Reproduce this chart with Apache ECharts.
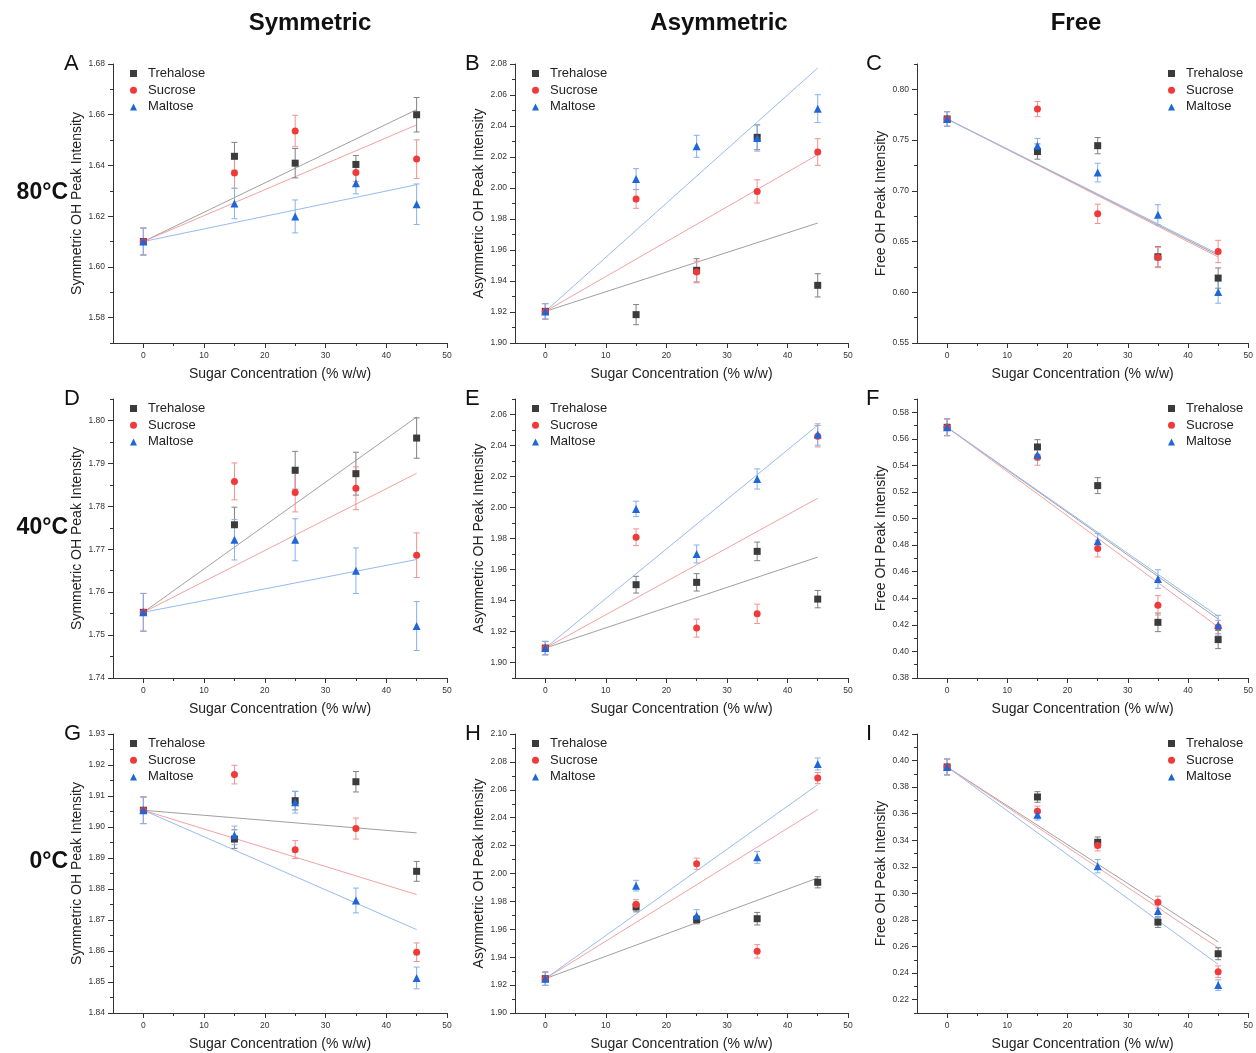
<!DOCTYPE html>
<html><head><meta charset="utf-8">
<script src="https://cdn.jsdelivr.net/npm/echarts@6/dist/echarts.min.js"></script>
<style>html,body{margin:0;padding:0;background:#fff}#c{width:1256px;height:1053px}</style>
</head><body><div id="c"></div><script>
// ---------- data ----------
const concentrations = [0, 15, 25, 35, 45];
const sugars = ['Trehalose', 'Sucrose', 'Maltose'];
const xTickLabels = [0, 10, 20, 30, 40, 50];
const columnTitles = ['Symmetric', 'Asymmetric', 'Free'];
const rowTitles = ['80°C', '40°C', '0°C'];
const yAxisNames = ['Symmetric OH Peak Intensity', 'Asymmetric OH Peak Intensity', 'Free OH Peak Intensity'];
const panelLetters = ['A','B','C','D','E','F','G','H','I'];

// [min, max, label step, minor step]
const yRangeA = [1.57, 1.68, 0.02, 0.01];
const yRangeB = [1.90, 2.08, 0.02, 0.01];
const yRangeC = [0.55, 0.825, 0.05, 0.025];
const yRangeD = [1.74, 1.805, 0.01, 0.005];
const yRangeE = [1.89, 2.07, 0.02, 0.01];
const yRangeF = [0.38, 0.59, 0.02, 0.01];
const yRangeG = [1.84, 1.93, 0.01, 0.005];
const yRangeH = [1.90, 2.10, 0.02, 0.01];
const yRangeI = [0.21, 0.42, 0.02, 0.01];

// values per sugar (Trehalose, Sucrose, Maltose)
const valsA = [[1.610,1.6436,1.6409,1.6404,1.6600],[1.610,1.6370,1.6536,1.6372,1.6425],[1.610,1.6250,1.6199,1.6330,1.6247]];
const errsA = [[0.0053,0.0055,0.0058,0.0035,0.0068],[0.0053,0.0060,0.0062,0.0035,0.0076],[0.0053,0.0060,0.0065,0.0042,0.0080]];
const fitsA = [[1.610,1.662],[1.610,1.656],[1.610,1.6324]];

const valsB = [[1.9204,1.9183,1.9469,2.0327,1.9372],[1.9204,1.9929,1.9458,1.9978,2.0232],[1.9204,2.0058,2.0269,2.0323,2.0512]];
const errsB = [[0.005,0.0065,0.0075,0.008,0.0075],[0.005,0.006,0.007,0.0075,0.0086],[0.005,0.0067,0.0071,0.0085,0.009]];
const fitsB = [[1.9204,1.9774],[1.9204,2.0215],[1.9204,2.0774]];

const valsC = [[0.7708,0.7387,0.7445,0.6350,0.6140],[0.7708,0.7806,0.6773,0.6343,0.6402],[0.7708,0.7445,0.7180,0.6763,0.6002]];
const errsC = [[0.0072,0.0075,0.008,0.010,0.010],[0.0072,0.0075,0.0095,0.010,0.011],[0.0072,0.0072,0.0092,0.010,0.011]];
const fitsC = [[0.7708,0.6364],[0.7708,0.6348],[0.7708,0.6378]];

const valsD = [[1.7553,1.7757,1.7884,1.7876,1.7959],[1.7553,1.7858,1.7832,1.7842,1.7686],[1.7553,1.7722,1.7722,1.7650,1.7521]];
const errsD = [[0.0044,0.0041,0.0044,0.005,0.0047],[0.0044,0.0043,0.0045,0.005,0.0052],[0.0044,0.0047,0.0049,0.0053,0.0057]];
const fitsD = [[1.7553,1.8008],[1.7553,1.7877],[1.7553,1.7676]];

const valsE = [[1.9093,1.9502,1.9517,1.9717,1.9409],[1.9093,1.9808,1.9222,1.9314,2.0460],[1.9093,1.9991,1.9700,2.0184,2.0471]];
const errsE = [[0.0043,0.0054,0.0056,0.006,0.0056],[0.0043,0.0054,0.0058,0.0062,0.0069],[0.0043,0.005,0.0058,0.0065,0.0069]];
const fitsE = [[1.9093,1.9680],[1.9093,2.0060],[1.9093,2.0531]];

const valsF = [[0.5687,0.5539,0.5248,0.4219,0.4089],[0.5687,0.5461,0.4774,0.4347,0.4184],[0.5687,0.5481,0.4829,0.4545,0.4197]];
const errsF = [[0.0063,0.0055,0.006,0.007,0.0068],[0.0063,0.006,0.0063,0.0073,0.005],[0.0063,0.004,0.0058,0.007,0.0075]];
const fitsF = [[0.5687,0.4244],[0.5687,0.4184],[0.5687,0.4264]];

const valsG = [[1.9054,1.8961,1.9085,1.9146,1.8857],[1.9054,1.9169,1.8927,1.8995,1.8596],[1.9054,1.8973,1.9080,1.8763,1.8513]];
const errsG = [[0.0043,0.003,0.003,0.0033,0.0032],[0.0043,0.003,0.0029,0.0034,0.003],[0.0043,0.003,0.0035,0.004,0.0035]];
const fitsG = [[1.9054,1.8981],[1.9054,1.8782],[1.9054,1.8669]];

const valsH = [[1.9246,1.9760,1.9669,1.9676,1.9937],[1.9246,1.9777,2.0070,1.9442,2.0684],[1.9246,1.9913,1.9698,2.0116,2.0785]];
const errsH = [[0.0048,0.0035,0.003,0.0045,0.004],[0.0048,0.0035,0.004,0.0048,0.004],[0.0048,0.0038,0.0043,0.0043,0.0043]];
const fitsH = [[1.9246,1.9968],[1.9246,2.0458],[1.9246,2.0637]];

const valsI = [[0.3952,0.3726,0.3385,0.2784,0.2546],[0.3952,0.3619,0.3360,0.2934,0.2411],[0.3952,0.3593,0.3205,0.2867,0.2310]];
const errsI = [[0.006,0.004,0.004,0.004,0.0045],[0.006,0.0038,0.004,0.0045,0.0043],[0.006,0.004,0.005,0.005,0.004]];
const fitsI = [[0.3952,0.2636],[0.3952,0.2591],[0.3952,0.2466]];

// ---------- styling ----------
const markColors = ['#3b3b3b', '#f03a3a', '#1f66d6'];
const errColors = ['#808080', '#f39090', '#88b0ec'];
const fitColors = ['#a0a0a0', '#f4a2a2', '#96bbf0'];
const symbols = ['rect', 'circle', 'triangle'];
const symbolSizes = [7, 7, 8];
const FONT = '"Liberation Sans", Arial, sans-serif';

const panels = [
  [valsA, errsA, fitsA, yRangeA], [valsB, errsB, fitsB, yRangeB], [valsC, errsC, fitsC, yRangeC],
  [valsD, errsD, fitsD, yRangeD], [valsE, errsE, fitsE, yRangeE], [valsF, errsF, fitsF, yRangeF],
  [valsG, errsG, fitsG, yRangeG], [valsH, errsH, fitsH, yRangeH], [valsI, errsI, fitsI, yRangeI]
];

const colLeft = [113, 515, 917];
const colWidth = [334, 333, 334];
const rowTop = [64, 399, 734];
const gridH = 279;

function stepValues(min, max, step, skipStep) {
  const out = [];
  const n0 = Math.ceil(min / step - 1e-6), n1 = Math.floor(max / step + 1e-6);
  for (let n = n0; n <= n1; n++) {
    const v = Math.round(n * step * 1e6) / 1e6;
    if (skipStep) {
      const r = v / skipStep;
      if (Math.abs(r - Math.round(r)) < 1e-6) continue;
    }
    out.push(v);
  }
  return out;
}

function errRenderer(color) {
  return function (params, api) {
    const x = api.value(0), lo = api.value(1), hi = api.value(2);
    const p1 = api.coord([x, hi]), p2 = api.coord([x, lo]);
    const w = 3;
    const st = { stroke: color, lineWidth: 1 };
    return { type: 'group', children: [
      { type: 'line', shape: { x1: p1[0], y1: p1[1], x2: p2[0], y2: p2[1] }, style: st },
      { type: 'line', shape: { x1: p1[0] - w, y1: p1[1], x2: p1[0] + w, y2: p1[1] }, style: st },
      { type: 'line', shape: { x1: p2[0] - w, y1: p2[1], x2: p2[0] + w, y2: p2[1] }, style: st }
    ]};
  };
}

const grid = [], xAxis = [], yAxis = [], series = [], legend = [], graphic = [];
const axisColor = '#333';

panels.forEach((p, i) => {
  const [vals, errs, fits, yr] = p;
  const row = Math.floor(i / 3), col = i % 3;
  grid.push({ left: colLeft[col], top: rowTop[row], width: colWidth[col], height: gridH });
  const xMajor = xTickLabels;
  const xMinor = stepValues(0, 50, 5, 10);
  xAxis.push({
    type: 'value', gridIndex: i, min: -5, max: 50, position: 'bottom',
    axisLine: { show: true, onZero: false, lineStyle: { color: axisColor, width: 1 } },
    axisTick: { show: true, length: 5, customValues: xMajor, lineStyle: { color: axisColor } },
    axisLabel: { customValues: xMajor, fontSize: 8.5, color: '#333', margin: 8, fontFamily: FONT },
    splitLine: { show: false },
    name: 'Sugar Concentration (% w/w)', nameLocation: 'middle', nameGap: 24,
    nameTextStyle: { fontSize: 14, color: '#222', fontFamily: FONT }
  });
  xAxis.push({
    type: 'value', gridIndex: i, min: -5, max: 50, position: 'bottom',
    axisLine: { show: false, onZero: false },
    axisTick: { show: true, length: 3, customValues: xMinor, lineStyle: { color: axisColor } },
    axisLabel: { show: false }, splitLine: { show: false }
  });
  const yMajor = stepValues(yr[0], yr[1], yr[2]);
  const yMinor = stepValues(yr[0], yr[1], yr[3], yr[2]);
  yAxis.push({
    type: 'value', gridIndex: i, min: yr[0], max: yr[1], position: 'left',
    axisLine: { show: true, onZero: false, lineStyle: { color: axisColor, width: 1 } },
    axisTick: { show: true, length: 5, customValues: yMajor, lineStyle: { color: axisColor } },
    axisLabel: { customValues: yMajor, fontSize: 8.5, color: '#333', margin: 8, fontFamily: FONT,
      formatter: v => Number(v).toFixed(2) },
    splitLine: { show: false },
    name: yAxisNames[col], nameLocation: 'middle', nameGap: 27,
    nameTextStyle: { fontSize: 14, color: '#222', fontFamily: FONT }
  });
  yAxis.push({
    type: 'value', gridIndex: i, min: yr[0], max: yr[1], position: 'left',
    axisLine: { show: false, onZero: false },
    axisTick: { show: true, length: 3, customValues: yMinor, lineStyle: { color: axisColor } },
    axisLabel: { show: false }, splitLine: { show: false }
  });
  const xi = 2 * i, yi = 2 * i;
  sugars.forEach((s, k) => {
    series.push({
      name: s + ' fit', type: 'line', xAxisIndex: xi, yAxisIndex: yi,
      data: [[0, fits[k][0]], [45, fits[k][1]]],
      showSymbol: false, symbol: 'none', silent: true, z: 2,
      lineStyle: { color: fitColors[k], width: 1 }
    });
  });
  sugars.forEach((s, k) => {
    series.push({
      name: s + ' error', type: 'custom', xAxisIndex: xi, yAxisIndex: yi, z: 3, silent: true,
      renderItem: errRenderer(errColors[k]),
      encode: { x: 0, y: [1, 2] },
      data: concentrations.map((x, j) => [x, vals[k][j] - errs[k][j], vals[k][j] + errs[k][j]])
    });
  });
  sugars.forEach((s, k) => {
    series.push({
      name: s, type: 'scatter', xAxisIndex: xi, yAxisIndex: yi, z: 4,
      symbol: symbols[k], symbolSize: symbolSizes[k],
      itemStyle: { color: markColors[k], opacity: 1 },
      data: concentrations.map((x, j) => [x, vals[k][j]])
    });
  });
  const legLeft = col === 2 ? 1163 : colLeft[col] + 12;
  legend.push({
    orient: 'vertical', left: legLeft, top: rowTop[row] - 2.5, data: sugars,
    itemWidth: 7, itemHeight: 7, itemGap: 2.7, selectedMode: false,
    textStyle: { fontSize: 13, color: '#222', fontFamily: FONT, lineHeight: 14, padding: [0, 0, 0, 6] }
  });
  const letterX = [72, 473, 874][col];
  graphic.push({ type: 'text', left: letterX - 8, top: rowTop[row] - 11,
    style: { text: panelLetters[i], font: '22px ' + FONT, fill: '#111' } });
});

const titleX = [310, 719, 1076];
columnTitles.forEach((t, c) => {
  graphic.push({ type: 'text', x: titleX[c], y: 23,
    style: { text: t, font: 'bold 24px ' + FONT, fill: '#111', textAlign: 'center', textVerticalAlign: 'middle' } });
});
const rowY = [193, 528, 862];
rowTitles.forEach((t, r) => {
  graphic.push({ type: 'text', x: 68, y: rowY[r],
    style: { text: t, font: 'bold 23px ' + FONT, fill: '#111', textAlign: 'right', textVerticalAlign: 'middle' } });
});

const chart = echarts.init(document.getElementById('c'), null, { renderer: 'canvas' });
chart.setOption({
  animation: false,
  backgroundColor: '#fff',
  textStyle: { fontFamily: FONT },
  grid, xAxis, yAxis, series, legend, graphic
});
</script></body></html>
